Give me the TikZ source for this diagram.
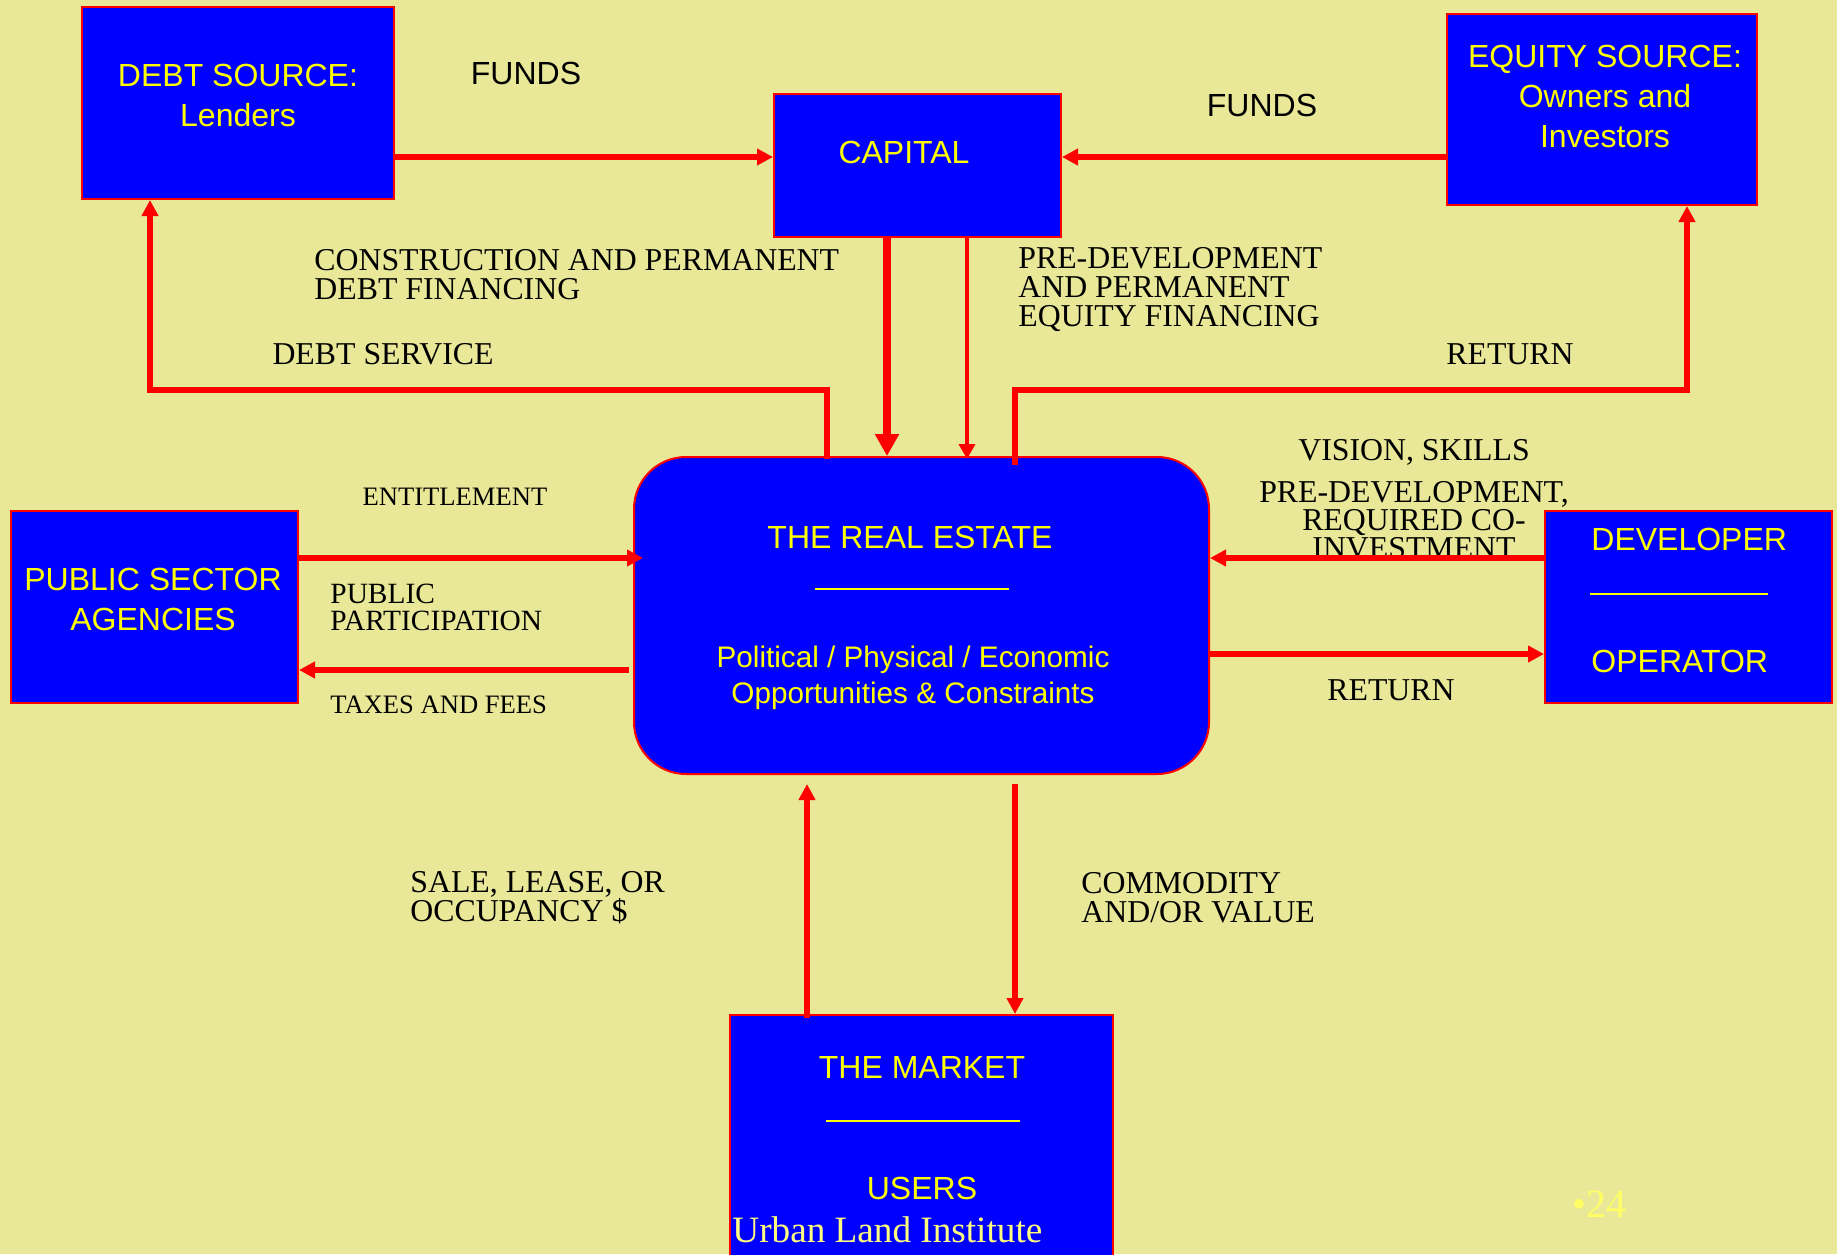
\documentclass[tikz,border=0pt]{standalone}
\usepackage{fontspec}
\setmainfont{Liberation Serif}
\setsansfont{Liberation Sans}
\usetikzlibrary{calc,arrows.meta}
\definecolor{slidebg}{RGB}{232,232,152}
\definecolor{boxblue}{RGB}{0,0,255}
\definecolor{flowred}{RGB}{255,0,0}
\definecolor{boxyellow}{RGB}{255,255,0}
\definecolor{paleyellow}{RGB}{255,255,125}
\definecolor{pagenoyellow}{RGB}{255,255,100}

\begin{document}
\begin{tikzpicture}[x=0.5pt, y=-0.5pt,
    box/.style={draw=flowred, line width=1pt, fill=boxblue, inner sep=0pt},
    boxtext/.style={text=boxyellow, inner sep=0pt, align=center,
      font=\sffamily\fontsize{16}{20}\selectfont},
    lbl/.style={inner sep=0pt, font=\fontsize{15.9}{14.5}\selectfont},
    smalllbl/.style={inner sep=0pt, font=\fontsize{13.3}{13.5}\selectfont},
    fundslbl/.style={inner sep=0pt, font=\sffamily\fontsize{16}{20}\selectfont},
    flow/.style={draw=flowred, line width=2.7pt, -{Triangle[length=8pt,width=8pt]}},
    flowthick/.style={draw=flowred, line width=3.6pt, -{Triangle[length=11pt,width=11.5pt]}},
    flowthin/.style={draw=flowred, line width=2.3pt, -{Triangle[length=7.5pt,width=8pt]}}]
    \useasboundingbox (0,0) rectangle (1837,1254);
    \fill[slidebg] (0,0) rectangle (1837,1254);
    \clip (0,0) rectangle (1837,1254);
    % top row: sources of money and capital
    \node[box, minimum width=156pt, minimum height=96pt] (debt) at (238,103) {};
    \node[boxtext] (debttxt) at (238,95) {DEBT SOURCE:\\Lenders};
    \node[box, minimum width=143.5pt, minimum height=71.5pt] (capital) at (917.5,165.5) {};
    \node[boxtext] (capitaltxt) at (904,152) {CAPITAL};
    \node[box, minimum width=155pt, minimum height=95.5pt] (equity) at (1602,109.5) {};
    \node[boxtext] (equitytxt) at (1605,96) {EQUITY SOURCE:\\Owners and\\Investors};
    % middle row: the real estate between public sector and developer
    \node[box, rounded corners=26pt, minimum width=287.5pt, minimum height=158.5pt] (re) at (921.5,615.5) {};
    \node[boxtext] (retitle) at (910,537) {THE REAL ESTATE};
    \node[text=boxyellow, inner sep=0pt] (rerule) at (911.5,589) {\rule{97pt}{0.75pt}};
    \node[boxtext, font=\sffamily\fontsize{14.85}{18}\selectfont] (resub) at (913,677.5)
      {Political / Physical / Economic\\Opportunities \& Constraints};
    \node[box, minimum width=143.5pt, minimum height=96pt] (public) at (154.5,607) {};
    \node[boxtext] (publictxt) at (153,599) {PUBLIC SECTOR\\AGENCIES};
    \node[box, minimum width=143.5pt, minimum height=96pt] (developer) at (1688.5,607) {};
    \node[boxtext, anchor=west] (devtxt) at (1591,539) {DEVELOPER};
    \node[text=boxyellow, inner sep=0pt, anchor=west] (devrule) at (1590,594) {\rule{89pt}{0.75pt}};
    \node[boxtext, anchor=west] (optxt) at (1591,661) {OPERATOR};
    % bottom: the market, running off the page
    \node[box, minimum width=191.5pt, minimum height=137.5pt] (market) at (921.5,1152.5) {};
    \node[boxtext] (markettxt) at (922,1067) {THE MARKET};
    \node[text=boxyellow, inner sep=0pt] (mktrule) at (923,1121) {\rule{97pt}{0.75pt}};
    \node[boxtext] (userstxt) at (922,1188) {USERS};
    \node[inner sep=0pt, anchor=west, text=paleyellow, font=\fontsize{18.6}{20}\selectfont]
      (uli) at (732,1230) {Urban Land Institute};
    \node[inner sep=0pt, text=pagenoyellow, font=\fontsize{20}{22}\selectfont] (pageno) at (1599,1204) {•24};
    % flow labels
    \node[fundslbl] (funds1) at (526,73) {FUNDS};
    \node[fundslbl] (funds2) at (1262,105) {FUNDS};
    \node[lbl, anchor=west, align=left] (constr) at (314,274.5) {CONSTRUCTION AND PERMANENT\\DEBT FINANCING};
    \node[lbl, anchor=west, align=left] (predev) at (1018,290) {PRE-DEVELOPMENT\\AND PERMANENT\\EQUITY FINANCING};
    \node[lbl] (debtsvc) at (383,354) {DEBT SERVICE};
    \node[lbl] (return1) at (1510,354) {RETURN};
    \node[lbl] (vision) at (1414,452) {VISION, SKILLS};
    \node[lbl, align=center, font=\fontsize{15.9}{14}\selectfont] (coinv) at (1414,520)
      {PRE-DEVELOPMENT,\\REQUIRED CO-\\INVESTMENT};
    \node[smalllbl] (entitle) at (455,497) {ENTITLEMENT};
    \node[lbl, anchor=west, align=left, font=\fontsize{14.7}{13.5}\selectfont] (pubpart) at (330,607)
      {PUBLIC\\PARTICIPATION};
    \node[smalllbl, anchor=west] (taxes) at (330,705) {TAXES AND FEES};
    \node[lbl] (return2) at (1391,690) {RETURN};
    \node[lbl, anchor=west, align=left] (sale) at (410,898) {SALE, LEASE, OR\\OCCUPANCY \$};
    \node[lbl, anchor=west, align=left] (commod) at (1081,898) {COMMODITY\\AND/OR VALUE};
    % funds into capital
    \coordinate (capinL) at ([yshift=4.25pt]capital.west);
    \coordinate (capinR) at ([yshift=4.25pt]capital.east);
    \draw[flow] (debt.east |- capinL) -- (capinL);
    \draw[flow] (equity.west |- capinR) -- (capinR);
    % financing down to the real estate
    \coordinate (fin1) at ([xshift=-15.25pt]capital.south);
    \coordinate (fin2) at ([xshift=24.75pt]capital.south);
    \draw[flowthick] (fin1) -- (fin1 |- re.north);
    \draw[flowthin, shorten >=-1.5pt] (fin2) -- (fin2 |- re.north);
    % debt service and return back up
    \coordinate (dsv) at ([xshift=-47.25pt,yshift=-1.5pt]re.north);
    \draw[flow] (dsv) -- ++(0,-69) -| ([xshift=-44pt]debt.south);
    \coordinate (rtv) at ([xshift=46.75pt,yshift=-4.5pt]re.north);
    \draw[flow] (rtv) -- ++(0,-75) -| ([xshift=42.5pt]equity.south);
    % public sector
    \coordinate (pubout) at ([yshift=24.5pt]public.east);
    \coordinate (taxin) at ([yshift=-31.5pt]public.east);
    \draw[flow, shorten >=-5pt] (pubout) -- (pubout -| re.west);
    \draw[flow, shorten <=2pt] (taxin -| re.west) -- (taxin);
    % developer
    \coordinate (devout) at ([yshift=24.5pt]developer.west);
    \coordinate (devin) at ([yshift=-23.5pt]developer.west);
    \draw[flow] (devout) -- (devout -| re.east);
    \draw[flow] (devin -| re.east) -- (devin);
    % market
    \coordinate (mktout) at ([xshift=-57.25pt,yshift=-2pt]market.north);
    \coordinate (mktin) at ([xshift=46.75pt]market.north);
    \draw[flow, shorten >=4.5pt] (mktout) -- (mktout |- re.south);
    \draw[flow, shorten <=4.5pt] (mktin |- re.south) -- (mktin);
\end{tikzpicture}
\end{document}
